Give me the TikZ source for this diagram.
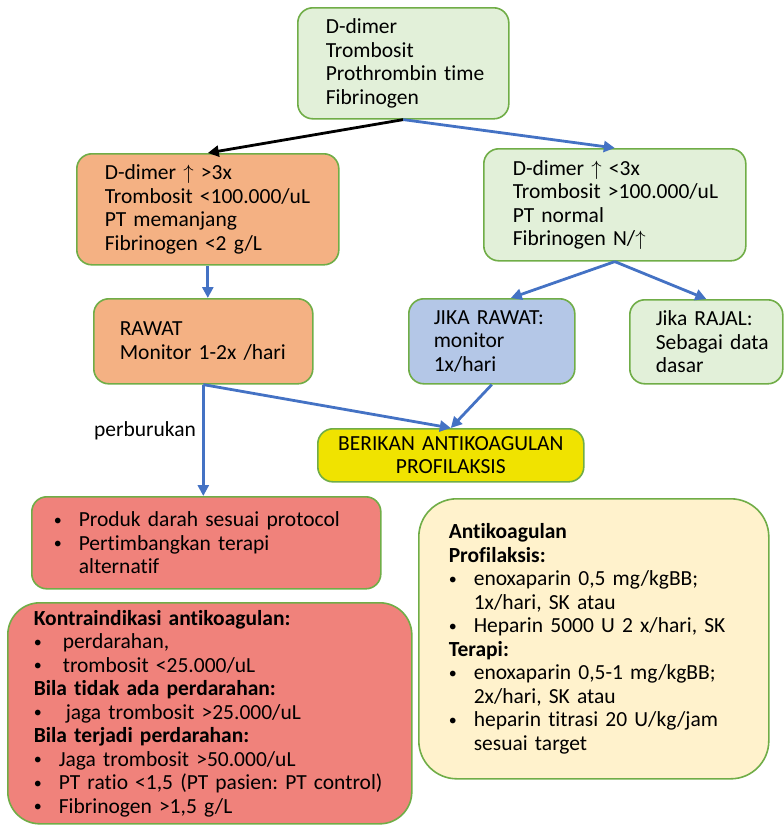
\documentclass[tikz,border=0pt]{standalone}
\usepackage{fontspec}
\setmainfont{Carlito}[Ligatures=NoCommon]
\usepackage{tikz}
\usetikzlibrary{arrows.meta,shapes}
\frenchspacing

\definecolor{boxline}{HTML}{70AD47}
\definecolor{lightgreen}{HTML}{E2F0D9}
\definecolor{peach}{HTML}{F4B183}
\definecolor{paleblue}{HTML}{B4C7E7}
\definecolor{signyellow}{HTML}{F0E300}
\definecolor{coral}{HTML}{F0827B}
\definecolor{cream}{HTML}{FFF2CC}
\definecolor{arrowblue}{HTML}{4472C4}

\newcommand{\bul}[2][25pt]{\makebox[#1][l]{\raisebox{1.5pt}{\fontsize{16}{16}\selectfont\textbullet}}#2}
\newcommand{\ind}[1][25pt]{\hspace*{#1}}

\tikzset{
  card/.style={draw=boxline, line width=1.6pt, rounded corners=15pt, inner sep=0pt,
    anchor=north west, align=left, font=\fontsize{21.5}{23.5}\selectfont},
  boxsize/.style n args={3}{text width=#1, minimum height=#2,
    execute at begin node={\leftskip=#3\relax}},
  greenbox/.style={card, fill=lightgreen},
  orangebox/.style={card, fill=peach},
  bluebox/.style={card, fill=paleblue},
  yellowbox/.style={card, fill=signyellow, align=center},
  redbox/.style={card, fill=coral},
  creambox/.style={card, fill=cream},
  flow/.style={draw=arrowblue, line width=2.8pt, -{Triangle[length=11pt,width=11pt]}},
  blackflow/.style={flow, draw=black}
}

\begin{document}
\begin{tikzpicture}[x=1pt,y=-1pt]
\path[use as bounding box] (0,0) rectangle (784,825);
\clip (0,0) rectangle (784,825);

% lab tests
\node[greenbox, boxsize={211pt}{111pt}{28pt}] (lab) at (297,7)
  {D-dimer\\Trombosit\\Prothrombin time\\Fibrinogen};

% two outcomes
\node[orangebox, boxsize={262pt}{111pt}{28pt}] (dimerhigh) at (76,153)
  {D-dimer $\uparrow$ >3x\\Trombosit <100.000/uL\\PT memanjang\\Fibrinogen <2 g/L};
\node[greenbox, boxsize={262pt}{112pt}{29pt}] (dimerlow) at (483,148)
  {D-dimer $\uparrow$ <3x\\Trombosit >100.000/uL\\PT normal\\Fibrinogen N/$\uparrow$};

% follow up
\node[orangebox, boxsize={219pt}{85pt}{26pt}] (rawat) at (93,298)
  {RAWAT\\Monitor 1-2x /hari};
\node[bluebox, boxsize={166pt}{85pt}{25pt}] (jikarawat) at (408,298)
  {JIKA RAWAT:\\monitor\\1x/hari};
\node[greenbox, boxsize={153pt}{84pt}{26pt}] (rajal) at (629,299)
  {Jika RAJAL:\\Sebagai data\\dasar};

\node[yellowbox, text width=266pt, minimum height=53pt] (profil) at (317,428)
  {BERIKAN ANTIKOAGULAN\\PROFILAKSIS};

\node[font=\fontsize{21.5}{23.5}\selectfont] (buruk) at (145,431) {perburukan};

% bottom boxes
\node[redbox, boxsize={349pt}{92pt}{22pt}] (produk) at (31,496)
  {\bul{Produk darah sesuai protocol}\\
   \bul{Pertimbangkan terapi}\\
   \ind alternatif};
\node[redbox, rounded corners=32pt, boxsize={404pt}{221pt}{26pt}] (kontra) at (7,602)
  {\textbf{Kontraindikasi antikoagulan:}\\
   \bul[29pt]{perdarahan,}\\
   \bul[29pt]{trombosit <25.000/uL}\\
   \textbf{Bila tidak ada perdarahan:}\\
   \bul[32pt]{jaga trombosit >25.000/uL}\\
   \textbf{Bila terjadi perdarahan:}\\
   \bul{Jaga trombosit >50.000/uL}\\
   \bul{PT ratio <1,5 (PT pasien: PT control)}\\
   \bul{Fibrinogen >1,5 g/L}};
\node[creambox, rounded corners=38pt, boxsize={350pt}{280pt}{30pt}] (antiko) at (418,498)
  {\textbf{Antikoagulan}\\
   \textbf{Profilaksis:}\\
   \bul{enoxaparin 0,5 mg/kgBB;}\\
   \ind 1x/hari, SK atau\\
   \bul{Heparin 5000 U 2 x/hari, SK}\\
   \textbf{Terapi:}\\
   \bul{enoxaparin 0,5-1 mg/kgBB;}\\
   \ind 2x/hari, SK atau\\
   \bul{heparin titrasi 20 U/kg/jam}\\
   \ind sesuai target};

% connectors
\draw[blackflow] (lab.south) -- (dimerhigh.north);
\draw[flow] (lab.south) -- (dimerlow.north);
\draw[flow] (dimerhigh.south) -- (dimerhigh.south |- rawat.north);
\draw[flow] (dimerlow.south) -- ([xshift=19pt]jikarawat.north);
\draw[flow] (dimerlow.south) -- (rajal.north);
\draw[flow] (rawat.south) -- (profil.north);
\draw[flow] (jikarawat.south) -- (profil.north);
\draw[flow] (rawat.south) -- (rawat.south |- produk.north);
\end{tikzpicture}
\end{document}
